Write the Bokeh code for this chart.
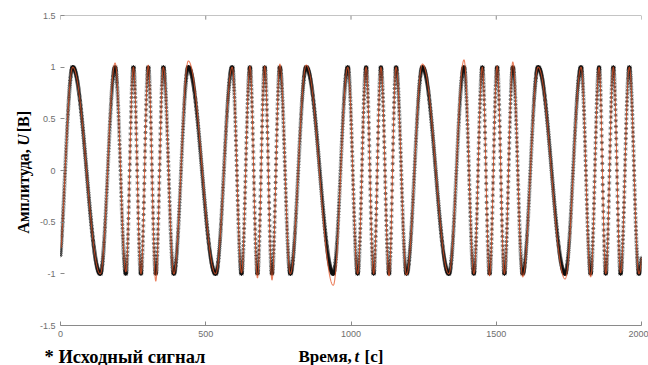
import numpy as np
from bokeh.plotting import figure
from bokeh.layouts import row, column
from bokeh.models import LinearAxis, FixedTicker, Range1d, Span
from bokeh.core.properties import value
from bokeh.embed import file_html
from bokeh.resources import INLINE

# Turning points (time, s) of the FM test signal: alternating troughs and peaks
turn_t = [-10, 42, 137, 188, 225, 251, 277, 302, 328, 354, 390,
          440, 534, 591, 623, 652, 678, 703, 728, 755, 791,
          846, 939, 989, 1023, 1052, 1078, 1103, 1131, 1155, 1191,
          1246, 1337, 1389, 1423, 1452, 1477, 1503, 1528, 1557, 1591,
          1644, 1737, 1792, 1825, 1854, 1877, 1903, 1928, 1958, 1991, 2041]

# Original signal amplitude at each turning point (V)
orig_u = [-1, 1, -1, 1, -1, 1, -1, 1, -1, 1, -1,
          1, -1, 1, -1, 1, -1, 1, -1, 1, -1,
          1, -1, 1, -1, 1, -1, 1, -1, 1, -1,
          1, -1, 1, -1, 1, -1, 1, -1, 1, -1,
          1, -1, 1, -1, 1, -1, 1, -1, 1, -1, 1]

# Reconstructed signal amplitude at each turning point (V), with its overshoots
recon_u = [-1.00, 1.00, -1.00, 1.04, -0.98, 1.00, -1.00, 1.02, -1.07, 1.00, -1.00,
           1.06, -1.00, 1.00, -0.99, 1.01, -1.04, 1.01, -1.06, 1.03, -1.00,
           1.02, -1.11, 1.00, -1.00, 1.00, -1.00, 1.00, -1.02, 1.00, -1.01,
           1.03, -1.00, 1.07, -1.00, 1.00, -1.02, 1.01, -1.00, 1.05, -1.03,
           1.00, -1.05, 1.00, -1.03, 1.00, -1.00, 1.00, -0.99, 1.00, -1.00, 1.00]

x_ticks = [0, 500, 1000, 1500, 2000]
y_ticks = [-1.5, -1, -0.5, 0, 0.5, 1, 1.5]
y_tick_labels = ["-1.5", "-1", "-0.5", "0", "0.5", "1", "1.5"]


def half_waves(t, knots_t, knots_u):
    """Each half-wave between neighbouring turning points is a half cosine."""
    kt = np.asarray(knots_t, float)
    ku = np.asarray(knots_u, float)
    k = np.clip(np.searchsorted(kt, t, side="right") - 1, 0, len(kt) - 2)
    ph = (t - kt[k]) / (kt[k + 1] - kt[k])
    return ku[k] + (ku[k + 1] - ku[k]) * (1 - np.cos(np.pi * ph)) / 2


t_samp = np.arange(0, 2000.01, 0.5)
u_orig = half_waves(t_samp, turn_t, orig_u)
t_line = np.arange(2, 2000.01, 0.5)
u_recon = half_waves(t_line, turn_t, recon_u)

LEFT_W = 36          # strip holding the vertical axis title
MAIN_W, MAIN_H = 612, 345
BOTTOM_H = 20        # strip holding the legend entry and the x-axis title
TOTAL_H = MAIN_H + BOTTOM_H

AX = "#8a8a8a"
LBL = "#6e6e6e"
SERIF = "Liberation Serif"


def bare(fig):
    fig.outline_line_color = None
    fig.xgrid.visible = False
    fig.ygrid.visible = False
    fig.background_fill_color = "white"
    fig.border_fill_color = "white"


# ---- main axes -------------------------------------------------------------
p = figure(width=MAIN_W, height=MAIN_H, output_backend="svg", toolbar_location=None,
           x_range=Range1d(0, 2000), y_range=Range1d(-1.5, 1.5),
           min_border_left=22, min_border_right=7, min_border_top=15,
           min_border_bottom=20, x_axis_location=None, y_axis_location=None)
bare(p)


def style(ax):
    ax.major_tick_in = 4
    ax.major_tick_out = 0
    ax.minor_tick_line_color = None
    ax.major_tick_line_color = AX
    ax.axis_line_width = 1.2
    ax.major_label_text_font = "Liberation Sans"
    ax.major_label_text_font_size = "9px"
    ax.major_label_text_color = LBL
    ax.major_label_standoff = 5


xb = LinearAxis(ticker=FixedTicker(ticks=x_ticks))
style(xb)
xb.axis_line_color = AX
p.add_layout(xb, "below")

yl = LinearAxis(ticker=FixedTicker(ticks=y_ticks),
                major_label_overrides={v: s for v, s in zip(y_ticks, y_tick_labels)})
style(yl)
yl.axis_line_color = None
p.add_layout(yl, "left")

# top edge of the box with its inward ticks
p.add_layout(Span(location=1.5, dimension="width", line_color=AX, line_width=1.2))
p.segment(x0=x_ticks, x1=x_ticks, y0=[1.5] * len(x_ticks),
          y1=[1.5 - 0.04] * len(x_ticks), line_color=AX, line_width=1)

# sampled original signal, with the reconstruction traced over it
p.scatter(t_samp, u_orig, marker="asterisk", size=4, line_color="#111111",
          line_width=1, line_alpha=0.6)
p.line(t_line, u_recon, line_color="#e4572a", line_width=1.1, line_alpha=0.75)

# ---- left strip: vertical axis title --------------------------------------
ly = figure(width=LEFT_W, height=MAIN_H, output_backend="svg", toolbar_location=None,
            x_range=Range1d(0, LEFT_W), y_range=Range1d(BOTTOM_H, TOTAL_H),
            min_border=0, x_axis_location=None, y_axis_location=None)
bare(ly)


def strip_text(fig, px, py, txt, style_="bold", angle=0.0, size="17px"):
    fig.text(x=[px], y=[TOTAL_H - py], text=[txt], angle=angle,
             text_font=value(SERIF), text_font_size=size,
             text_font_style=style_, text_color="black",
             text_align="left", text_baseline="middle")


strip_text(ly, 23, 243, "Амплитуда,", angle=np.pi / 2, size="16px")
strip_text(ly, 23, 145, "U", "bold italic", angle=np.pi / 2, size="16px")
strip_text(ly, 23, 130, "[B]", angle=np.pi / 2, size="16px")

# ---- bottom strip: legend entry and x-axis title --------------------------
bx = figure(width=LEFT_W + MAIN_W, height=BOTTOM_H, output_backend="svg",
            toolbar_location=None, x_range=Range1d(0, LEFT_W + MAIN_W),
            y_range=Range1d(0, BOTTOM_H), min_border=0,
            x_axis_location=None, y_axis_location=None)
bare(bx)

strip_text(bx, 44, 356, "* Исходный сигнал", size="18.5px")
strip_text(bx, 298, 356, "Время,")
strip_text(bx, 354, 356, "t", "bold italic")
strip_text(bx, 364, 356, "[с]")

layout = column(row(ly, p, spacing=0), bx, spacing=0)
open("out.html", "w").write(file_html(layout, INLINE))
